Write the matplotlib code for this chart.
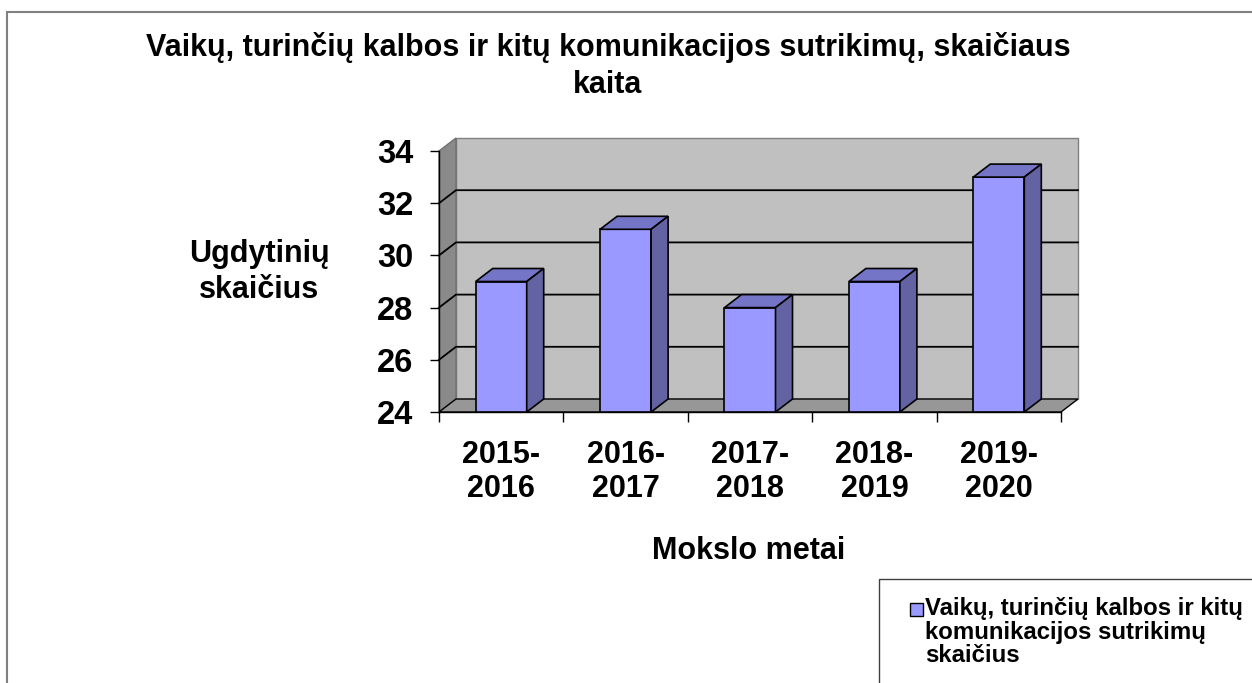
import matplotlib.pyplot as plt
from matplotlib.patches import Polygon, Rectangle

plt.rcParams['font.family'] = ['Liberation Sans', 'DejaVu Sans']
plt.rcParams['font.weight'] = 'bold'

# data
periods = ['2015-\n2016', '2016-\n2017', '2017-\n2018', '2018-\n2019', '2019-\n2020']
counts = [29, 31, 28, 29, 33]
y_ticks = [24, 26, 28, 30, 32, 34]
series_name = 'Vaikų, turinčių kalbos ir kitų\nkomunikacijos sutrikimų\nskaičius'
title = 'Vaikų, turinčių kalbos ir kitų komunikacijos sutrikimų, skaičiaus\nkaita'

W, H = 1252, 683
fig = plt.figure(figsize=(W / 100, H / 100), dpi=100)

# front plane of the pseudo-3d plot
ax = fig.add_axes([439 / W, 1 - 412 / H, 622 / W, 261 / H])
n = len(periods)
ymin, ymax = y_ticks[0], y_ticks[-1]
ax.set_xlim(0, n)
ax.set_ylim(ymin, ymax)
ax.patch.set_visible(False)

# depth offset (pixels -> data units)
dx = 17 / ax.bbox.width * n
dy = 13 / ax.bbox.height * (ymax - ymin)

# walls and floor
ax.add_patch(Rectangle((dx, ymin + dy), n, ymax - ymin, fc='#c0c0c0', ec='#808080',
                       lw=1, clip_on=False, zorder=0))
ax.add_patch(Polygon([(0, ymin), (0, ymax), (dx, ymax + dy), (dx, ymin + dy)],
                     fc='#8a8a8a', ec='#707070', lw=1, clip_on=False, zorder=0.5))
ax.add_patch(Polygon([(0, ymin), (n, ymin), (n + dx, ymin + dy), (dx, ymin + dy)],
                     fc='#979797', ec='black', lw=1, clip_on=False, zorder=0.6))

# gridlines on side and back wall
for v in y_ticks[1:-1]:
    ax.plot([0, dx, n + dx], [v, v + dy, v + dy], color='black', lw=1.3,
            clip_on=False, zorder=1)

# bars
bw = 0.41
centers = [i + 0.5 for i in range(n)]
ax.bar(centers, [c - ymin for c in counts], bottom=ymin, width=bw,
       color='#9999ff', edgecolor='black', linewidth=1.2, zorder=3)
for xc, v in zip(centers, counts):
    x0, x1 = xc - bw / 2, xc + bw / 2
    ax.add_patch(Polygon([(x0, v), (x1, v), (x1 + dx, v + dy), (x0 + dx, v + dy)],
                         fc='#7575c8', ec='black', lw=1.2, zorder=3, clip_on=False))
    ax.add_patch(Polygon([(x1, ymin), (x1, v), (x1 + dx, v + dy), (x1 + dx, ymin + dy)],
                         fc='#6363a3', ec='black', lw=1.2, zorder=3, clip_on=False))

# axes, ticks
for side in ['top', 'right']:
    ax.spines[side].set_visible(False)
for side in ['left', 'bottom']:
    ax.spines[side].set_color('black')
    ax.spines[side].set_linewidth(1)
ax.set_yticks(y_ticks)
ax.set_xticks(centers, periods)
ax.set_xticks(range(n + 1), minor=True)
ax.tick_params(axis='y', length=6.5, width=1, pad=12, labelsize=23.5)
ax.tick_params(axis='x', which='major', length=0, pad=20, labelsize=22)
ax.tick_params(axis='x', which='minor', length=7.5, width=1)

# texts
fig.text(608 / W, 1 - 66 / H, title, ha='center', va='center', fontsize=22,
         fontweight='bold', linespacing=1.34)
fig.text(259 / W, 1 - 272 / H, 'Ugdytinių\nskaičius', ha='center', va='center',
         fontsize=22, fontweight='bold', linespacing=1.23)
fig.text(749 / W, 1 - 551 / H, 'Mokslo metai', ha='center', va='center',
         fontsize=22, fontweight='bold')

# chart frame and legend box (both run off the picture)
fig.add_artist(Rectangle((7 / W, -0.1), 1, 1.1 - 12 / H, transform=fig.transFigure,
                         fill=False, ec='#808080', lw=1.5))
fig.add_artist(Rectangle((879 / W, -0.1), 1, 1.1 - 579 / H, transform=fig.transFigure,
                         fill=False, ec='#404040', lw=1))
fig.add_artist(Rectangle((910 / W, 1 - 616 / H), 13 / W, 13 / H, transform=fig.transFigure,
                         fc='#9999ff', ec='black', lw=1))
fig.text(925 / W, 1 - 597 / H, series_name, ha='left', va='top', fontsize=17.3,
         fontweight='bold', linespacing=1.03)

fig.savefig('out.png', dpi=100)
